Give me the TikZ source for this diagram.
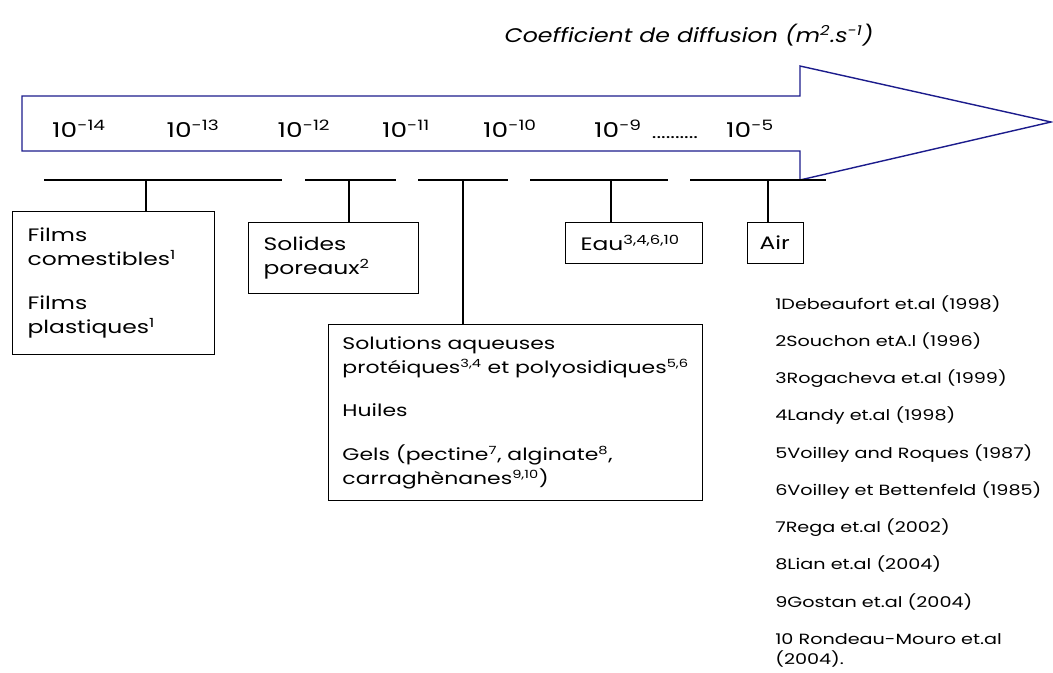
\documentclass[tikz,border=0pt]{standalone}
\usepackage{fontspec}
\setmainfont{Poppins}[FakeStretch=1.3]
\newfontfamily\titrefont{Poppins}[FakeStretch=1.2]
\usepackage{xcolor}
\usepackage{tikz}
\usetikzlibrary{positioning}

\definecolor{bleufleche}{RGB}{28,28,140}

\begin{document}
\begin{tikzpicture}[x=0.025cm, y=-0.025cm,
    fleche/.style={draw=bleufleche, line width=1pt, line join=miter},
    segment/.style={line width=1.4pt},
    lien/.style={line width=0.9pt},
    boite/.style={draw, line width=0.9pt, anchor=north west, align=left,
      inner ysep=0pt, font=\fontsize{12.8}{17}\selectfont},
    puissance/.style={font=\fontsize{14.5}{17}\selectfont},
    biblio/.style={anchor=north west, align=left, inner sep=0pt,
      font=\fontsize{10.5}{14}\selectfont}]
  \useasboundingbox (0,0) rectangle (1053,672);

  % Title
  \node[font=\fontsize{14}{17}\titrefont\itshape] (titre) at (689,35)
    {Coefficient de diffusion (m\textsuperscript{2}.s\textsuperscript{-1})};

  % Big arrow
  \draw[fleche] (22,96) -- (800,96) -- (800,66) -- (1051,122) -- (800,180)
    -- (800,151) -- (22,151) -- cycle;

  % Powers of ten
  \foreach \xx/\ee [count=\i] in {79/-14, 193/-13, 304/-12, 406/-11, 510/-10, 618/-9, 750/-5}
    \node[puissance] (exp\i) at (\xx,129) {10\textsuperscript{\ee}};
  \node[font=\fontsize{12}{12}\selectfont] (points) at (675,138) {..........};

  % Scale segments
  \foreach \xa/\xb in {44/282, 305/396, 418/508, 530/668, 690/826}
    \draw[segment] (\xa,180) -- (\xb,180);
  \coordinate (p1) at (146,180);
  \coordinate (p2) at (349,180);
  \coordinate (p3) at (463,180);
  \coordinate (p4) at (611,180);
  \coordinate (p5) at (768,180);

  % Boxes
  \node[boite, inner xsep=0.375cm, text width=4.3cm, minimum height=3.575cm] (films) at (12,211)
    {Films\\comestibles\textsuperscript{1}\\[14pt]Films\\plastiques\textsuperscript{1}};
  \node[boite, inner xsep=0.375cm, text width=3.5cm, minimum height=1.775cm] (solides) at (248,222)
    {Solides\\poreaux\textsuperscript{2}};
  \node[boite, font=\fontsize{12}{17}\selectfont, minimum width=9.35cm, minimum height=4.4cm] (solutions) at (328,324)
    {Solutions aqueuses\\prot\'eiques\textsuperscript{3,4} et polyosidiques\textsuperscript{5,6}\\[14pt]
     Huiles\\[14pt]
     Gels (pectine\textsuperscript{7}, alginate\textsuperscript{8},\\carragh\`enanes\textsuperscript{9,10})};
  \node[boite, inner xsep=0.375cm, text width=2.675cm, minimum height=1.025cm] (eau) at (565,222)
    {Eau\textsuperscript{3,4,6,10}};
  \node[boite, inner xsep=0.3cm, text width=0.8cm, minimum height=1.025cm] (air) at (747,222)
    {Air};

  % Links
  \draw[lien] (p1) -- (p1 |- films.north);
  \draw[lien] (p2) -- (p2 |- solides.north);
  \draw[lien] (p3) -- (p3 |- solutions.north);
  \draw[lien] (p4) -- (p4 |- eau.north);
  \draw[lien] (p5) -- (p5 |- air.north);

  % References
  \node[biblio] (refs) at (775,295)
    {1Debeaufort et.al (1998)\\[12.5pt]
     2Souchon etA.l (1996)\\[12.5pt]
     3Rogacheva et.al (1999)\\[12.5pt]
     4Landy et.al (1998)\\[12.5pt]
     5Voilley and Roques (1987)\\[12.5pt]
     6Voilley et Bettenfeld (1985)\\[12.5pt]
     7Rega et.al (2002)\\[12.5pt]
     8Lian et.al (2004)\\[12.5pt]
     9Gostan et.al (2004)\\[12.5pt]
     10 Rondeau-Mouro et.al\\(2004).};
\end{tikzpicture}
\end{document}
